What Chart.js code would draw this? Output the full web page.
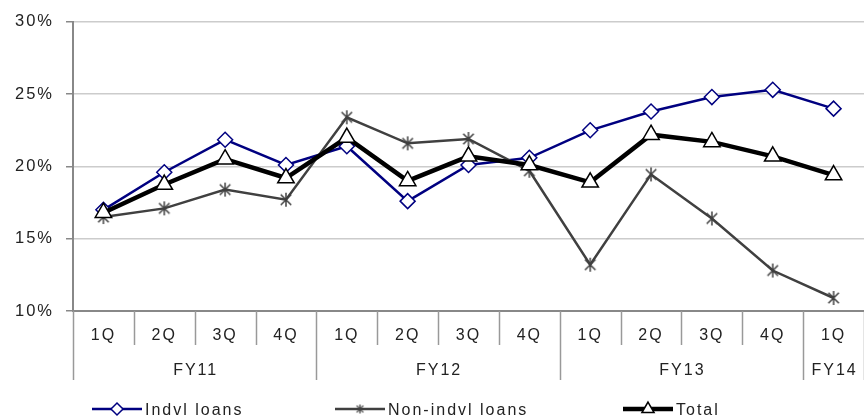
<!DOCTYPE html>
<html>
<head>
<meta charset="utf-8">
<script src="https://cdn.jsdelivr.net/npm/chart.js@4"></script>
<style>
  html, body { margin: 0; padding: 0; background: #fff; }
</style>
</head>
<body>
<canvas id="chart" width="864" height="419"></canvas>
<script>
const quarters = ['1Q', '2Q', '3Q', '4Q', '1Q', '2Q', '3Q', '4Q', '1Q', '2Q', '3Q', '4Q', '1Q'];
const fiscalYears = ['FY11', 'FY12', 'FY13', 'FY14'];
const yearSpans = [4, 4, 4, 1];
const indvlLoans = [17.0, 19.6, 21.85, 20.1, 21.4, 17.6, 20.1, 20.6, 22.5, 23.8, 24.8, 25.3, 24.0];
const nonIndvlLoans = [16.5, 17.1, 18.4, 17.7, 23.4, 21.6, 21.9, 19.7, 13.2, 19.45, 16.4, 12.8, 10.9];
const total = [16.8, 18.75, 20.5, 19.2, 22.0, 19.0, 20.7, 20.1, 18.9, 22.2, 21.7, 20.7, 19.4];
const yMin = 10, yMax = 30, yStep = 5;

const FONT = "'Liberation Sans', Arial, sans-serif";
const NAVY = '#000080';
const DARKGRAY = '#404040';
const AXIS = '#888888';

// asterisk marker (X + vertical bar) like the excel one
function makeStar(size, color, lw) {
  const c = document.createElement('canvas');
  c.width = size; c.height = size;
  const g = c.getContext('2d');
  const m = size / 2, r = size / 2 - 1;
  g.strokeStyle = color;
  g.lineWidth = lw;
  g.beginPath();
  g.moveTo(m - r * 0.75, m - r * 0.75); g.lineTo(m + r * 0.75, m + r * 0.75);
  g.moveTo(m + r * 0.75, m - r * 0.75); g.lineTo(m - r * 0.75, m + r * 0.75);
  g.moveTo(m, m - r); g.lineTo(m, m + r);
  g.stroke();
  return c;
}
const starBig = makeStar(16, DARKGRAY, 1.5);
const starSmall = makeStar(11, DARKGRAY, 1.3);

// letter spacing to get the wide excel text look
const spacing = {
  id: 'spacing',
  beforeDraw(chart) {
    chart.ctx.letterSpacing = '2px';
  }
};

// separators + fiscal year row under the quarter labels
const groupAxis = {
  id: 'groupAxis',
  afterDraw(chart) {
    const { ctx, chartArea } = chart;
    const x = chart.scales.x;
    const half = (x.getPixelForValue(1) - x.getPixelForValue(0)) / 2;
    const bottom = chartArea.bottom;
    const starts = [0];
    yearSpans.forEach(s => starts.push(starts[starts.length - 1] + s));

    ctx.save();
    ctx.strokeStyle = '#999999';
    ctx.lineWidth = 1.5;
    for (let i = 0; i <= quarters.length; i++) {
      const px = Math.round(x.getPixelForValue(i) - half) + 0.5;
      const len = starts.includes(i) ? 69 : 34;
      ctx.beginPath();
      ctx.moveTo(px, bottom);
      ctx.lineTo(px, bottom + len);
      ctx.stroke();
    }

    ctx.fillStyle = '#222';
    ctx.font = '16px ' + FONT;
    ctx.textAlign = 'center';
    ctx.textBaseline = 'middle';
    fiscalYears.forEach((fy, k) => {
      const a = x.getPixelForValue(starts[k]) - half;
      const b = x.getPixelForValue(starts[k + 1]) - half;
      ctx.fillText(fy, (a + b) / 2 + 1, bottom + 60);
    });
    ctx.restore();
  }
};

// legend with line through the marker
const lineLegend = {
  id: 'lineLegend',
  afterDraw(chart, args, opts) {
    const ctx = chart.ctx;
    const H = Chart.helpers;
    ctx.save();
    opts.items.forEach(it => {
      const ds = chart.data.datasets[it.ds];
      const y = opts.y;
      ctx.strokeStyle = ds.borderColor;
      ctx.lineWidth = ds.borderWidth;
      ctx.beginPath();
      ctx.moveTo(it.x, y);
      ctx.lineTo(it.x + 50, y);
      ctx.stroke();
      ctx.fillStyle = '#fff';
      ctx.strokeStyle = ds.pointBorderColor;
      ctx.lineWidth = 1.5;
      H.drawPoint(ctx, { pointStyle: it.style, radius: it.r, rotation: 0, borderWidth: 1.5 }, it.x + 25, y);
      ctx.fillStyle = '#222';
      ctx.font = '16px ' + FONT;
      ctx.textAlign = 'left';
      ctx.textBaseline = 'middle';
      ctx.fillText(ds.label, it.x + 53, y + 2);
    });
    ctx.restore();
  }
};

new Chart(document.getElementById('chart').getContext('2d'), {
  type: 'line',
  data: {
    labels: quarters,
    datasets: [
      {
        label: 'Indvl loans',
        data: indvlLoans,
        borderColor: NAVY,
        borderWidth: 2.5,
        pointStyle: 'rectRot',
        pointRadius: 7.5,
        pointBackgroundColor: '#fff',
        pointBorderColor: NAVY,
        pointBorderWidth: 1.5,
        order: 3
      },
      {
        label: 'Non-indvl loans',
        data: nonIndvlLoans,
        borderColor: DARKGRAY,
        borderWidth: 2.5,
        pointStyle: starBig,
        pointRadius: 8,
        pointBorderColor: DARKGRAY,
        order: 2
      },
      {
        label: 'Total',
        data: total,
        borderColor: '#000',
        borderWidth: 4.5,
        pointStyle: 'triangle',
        pointRadius: 9.5,
        pointBackgroundColor: '#fff',
        pointBorderColor: '#000',
        pointBorderWidth: 1.5,
        order: 1
      }
    ]
  },
  options: {
    responsive: false,
    animation: false,
    layout: { autoPadding: false, padding: { top: 20, right: 0, left: 0, bottom: 0 } },
    scales: {
      x: {
        offset: true,
        grid: { display: false, offset: true },
        border: { color: AXIS, width: 2 },
        ticks: {
          color: '#222',
          font: { family: FONT, size: 16 },
          padding: 7,
          maxRotation: 0,
          autoSkip: false
        },
        afterFit(scale) {
          scale.height = 108;
          scale.paddingLeft = 0;
          scale.paddingRight = 0;
        }
      },
      y: {
        min: yMin,
        max: yMax,
        grid: { color: '#cccccc', lineWidth: 1.5, tickColor: AXIS, tickLength: 7 },
        border: { color: AXIS, width: 2 },
        ticks: {
          stepSize: yStep,
          color: '#222',
          font: { family: FONT, size: 16.5 },
          padding: 12,
          callback: v => v + '%'
        },
        afterFit(scale) { scale.width = 73; }
      }
    },
    plugins: {
      legend: { display: false },
      tooltip: { enabled: false },
      lineLegend: {
        y: 409,
        items: [
          { ds: 0, x: 92, style: 'rectRot', r: 6 },
          { ds: 1, x: 335, style: starSmall, r: 6 },
          { ds: 2, x: 623, style: 'triangle', r: 7 }
        ]
      }
    }
  },
  plugins: [spacing, groupAxis, lineLegend]
});
</script>
</body>
</html>
